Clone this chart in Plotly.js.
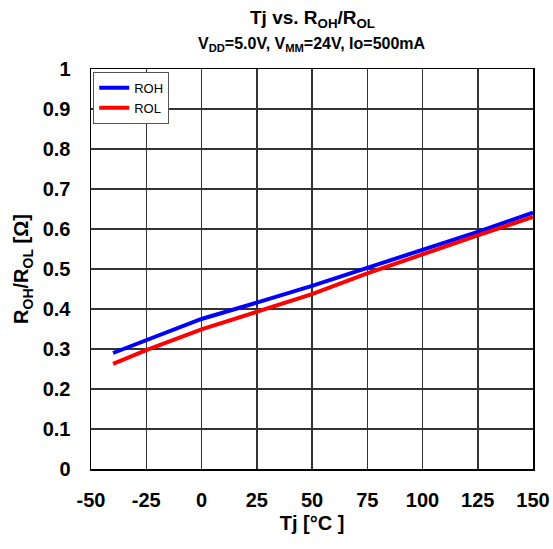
<!DOCTYPE html>
<html><head><meta charset="utf-8">
<script src="https://cdn.plot.ly/plotly-3.0.1.min.js"></script>
<style>body{margin:0;padding:0;background:#fff}#c{width:553px;height:549px}</style>
</head><body><div id="c"></div>
<script>
const tj = [-40, -25, 0, 25, 50, 75, 100, 125, 150];
const roh = [0.290, 0.322, 0.375, 0.416, 0.458, 0.503, 0.547, 0.593, 0.641];
const rol = [0.263, 0.297, 0.349, 0.392, 0.437, 0.489, 0.537, 0.584, 0.630];
const xTicks = [-50, -25, 0, 25, 50, 75, 100, 125, 150];
const yTicks = [0, 0.1, 0.2, 0.3, 0.4, 0.5, 0.6, 0.7, 0.8, 0.9, 1];

const F = 'Arial, Liberation Sans, sans-serif';
const traces = [
  {x: tj, y: roh, name: 'ROH', mode: 'lines', line: {color: '#0000ff', width: 4}},
  {x: tj, y: rol, name: 'ROL', mode: 'lines', line: {color: '#ff0000', width: 4}}
];
const layout = {
  width: 553, height: 549,
  margin: {l: 91, r: 20, t: 69, b: 80},
  paper_bgcolor: '#fff', plot_bgcolor: '#fff',
  font: {family: F, color: '#000'},
  showlegend: true,
  legend: {x: 0.005, y: 0.993, xanchor: 'left', yanchor: 'top', bgcolor: '#fff',
           bordercolor: '#555', borderwidth: 1, font: {family: F, size: 13, color: '#000'},
           tracegroupgap: 0, itemwidth: 30},
  xaxis: {range: [-50, 150], tickvals: xTicks, ticktext: xTicks.map(v => '<b>' + v + '</b>'),
          showgrid: true, gridcolor: '#333', gridwidth: 1.5, zeroline: false,
          showline: true, linecolor: '#000', linewidth: 1.5, mirror: true, ticks: '',
          tickfont: {family: F, size: 20, color: '#000'}, ticklabelstandoff: 12,
          title: {text: '<b>Tj [°C ]</b>', font: {family: F, size: 20, color: '#000'}, standoff: 6}},
  yaxis: {range: [0, 1], tickvals: yTicks, ticktext: yTicks.map(v => '<b>' + v + '</b>'),
          showgrid: true, gridcolor: '#333', gridwidth: 1.5, zeroline: false,
          showline: true, linecolor: '#000', linewidth: 1.5, mirror: true, ticks: '',
          tickfont: {family: F, size: 20, color: '#000'}, ticklabelstandoff: 15,
          title: {text: '<b>R<sub>OH</sub>/R<sub>OL</sub> [Ω]</b>', font: {family: F, size: 20, color: '#000'}, standoff: 8}},
  annotations: [
    {text: '<b>Tj vs. R<sub>OH</sub>/R<sub>OL</sub></b>', xref: 'paper', yref: 'paper',
     x: 0.5, y: 1, yshift: 50, xanchor: 'center', yanchor: 'middle', showarrow: false,
     font: {family: F, size: 19, color: '#000'}},
    {text: '<b>V<sub>DD</sub>=5.0V, V<sub>MM</sub>=24V, Io=500mA</b>', xref: 'paper', yref: 'paper',
     x: 0.5, y: 1, yshift: 25, xanchor: 'center', yanchor: 'middle', showarrow: false,
     font: {family: F, size: 16, color: '#000'}}
  ]
};
Plotly.newPlot('c', traces, layout, {displayModeBar: false, staticPlot: true});
</script></body></html>
